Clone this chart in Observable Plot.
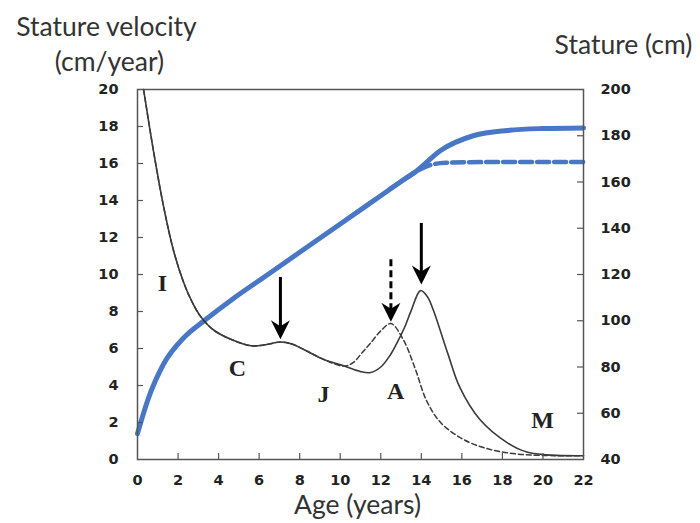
<!DOCTYPE html>
<html><head><meta charset="utf-8">
<script src="https://cdn.jsdelivr.net/npm/d3@7"></script>
<script src="https://cdn.jsdelivr.net/npm/@observablehq/plot@0.6"></script>
<style>body{margin:0;background:#fff;} svg{display:block;}</style>
</head><body><div id="chart"></div>
<script>
// Velocity (cm/year): common early part, then boys (solid) and girls (dashed)
const ageCommon = [0.3,0.8,1.3,1.8,2.3,2.7,3.1,3.75,4.6,5.6,6.3,7.05,7.6,8.2,9.2,10.2];
const velCommon = [20,16.6,13.6,11.2,9.5,8.5,7.75,7.0,6.5,6.15,6.2,6.35,6.25,5.95,5.4,5.05];
const boysVelAgeLate = [11.0,11.5,12.0,12.5,12.8,13.2,13.5,13.96,14.3,14.6,15.3,15.9,16.9,18.25,19.2,20.2,22];
const boysVelLate = [4.75,4.7,5.0,5.7,6.3,7.2,8.05,9.13,8.8,8.05,5.75,3.9,2.15,0.9,0.4,0.25,0.2];
const girlsVelAgeLate = [10.65,11.1,11.5,12.0,12.5,13.1,13.7,14.25,14.95,16.1,17.4,18.7,20,22];
const girlsVelLate = [5.25,5.8,6.3,6.95,7.35,6.5,4.9,3.2,2.0,1.07,0.54,0.3,0.22,0.2];

// Stature (cm)
const boysStatAge = [0,0.5,1.3,2.3,3.3,4.6,6.2,8.0,11.3,13.0,13.8,14.95,16.6,18.25,19.9,22];
const boysStat = [51.2,65.5,81.5,92.8,100.1,108.8,118.6,129.6,149.8,160.2,165,173.6,180.1,182.3,183.1,183.4];
const girlsStatAge = [12.5,13.0,13.8,14.4,15.2,17,22];
const girlsStat = [157.2,160.2,164.8,167.2,168.3,168.6,168.7];

// Arrows (age, top, tip in velocity units)
const arrowAge = [7.05,12.5,14.0];
const arrowTop = [9.84,10.8,12.76];
const arrowTip = [6.5,7.45,9.46];
const arrowDashed = [false,true,false];

// Phase labels
const phaseText = ["I","C","J","A","M"];
const phaseAge = [1.23,4.93,9.18,12.73,19.98];
const phaseVel = [9.5,4.92,3.5,3.67,2.1];

// Ticks
const ageTicks = [0,2,4,6,8,10,12,14,16,18,20,22];
const velTicks = [0,2,4,6,8,10,12,14,16,18,20];
const statTicks = [40,60,80,100,120,140,160,180,200];

const toVel = s => (s - 40) / 8;
const velRows = (a, v) => a.map((x, i) => ({age: x, vel: v[i]}));
const boysVel = velRows(ageCommon.concat(boysVelAgeLate), velCommon.concat(boysVelLate));
const girlsVel = velRows(ageCommon.concat(girlsVelAgeLate), velCommon.concat(girlsVelLate));
const boysS = boysStatAge.map((x, i) => ({age: x, stat: boysStat[i]}));
const girlsS = girlsStatAge.map((x, i) => ({age: x, stat: girlsStat[i]}));
const arrows = arrowAge.map((x, i) => ({age: x, top: arrowTop[i], tip: arrowTip[i], dashed: arrowDashed[i]}));
const phases = phaseText.map((t, i) => ({t, age: phaseAge[i], vel: phaseVel[i]}));

const arrowHead = {
  draw(ctx) {
    ctx.moveTo(0, 0);
    ctx.lineTo(-9.5, -19);
    ctx.lineTo(0, -13);
    ctx.lineTo(9.5, -19);
    ctx.closePath();
  }
};

const W = 700, H = 523, ML = 137, MR = 117, MT = 89, MB = 64;
const fw = W - ML - MR, fh = H - MT - MB;
const blue = "#4877c5", ink = "#3a3a3a", axisInk = "#555";
const tickFont = {fontFamily: "DejaVu Sans", fontWeight: "bold", fontSize: 14.5, fill: "#222", stroke: "#222", strokeWidth: 0.5};
const titleFont = {fontFamily: "Lato", fontSize: 26.5, fill: "#333", fontWeight: "normal", lineAnchor: "middle", textAnchor: "middle"};

const chart = Plot.plot({
  width: W, height: H,
  marginLeft: ML, marginRight: MR, marginTop: MT, marginBottom: MB,
  x: {domain: [0, 22]},
  y: {domain: [0, 20]},
  style: {background: "#fff"},
  marks: [
    // stature
    Plot.line(boysS, {x: "age", y: d => toVel(d.stat), stroke: blue, strokeWidth: 5, curve: "monotone-x"}),
    Plot.line(girlsS, {x: "age", y: d => toVel(d.stat), stroke: blue, strokeWidth: 4.5, strokeDasharray: "12,5", curve: "monotone-x"}),
    // velocity
    Plot.line(girlsVel, {x: "age", y: "vel", stroke: ink, strokeWidth: 1.5, strokeDasharray: "5,3", curve: "catmull-rom"}),
    Plot.line(boysVel, {x: "age", y: "vel", stroke: ink, strokeWidth: 1.6, curve: "catmull-rom"}),
    // arrows
    Plot.ruleX(arrows.filter(d => !d.dashed), {x: "age", y1: "top", y2: "tip", stroke: "#000", strokeWidth: 3, insetBottom: 10}),
    Plot.ruleX(arrows.filter(d => d.dashed), {x: "age", y1: "top", y2: "tip", stroke: "#000", strokeWidth: 3, strokeDasharray: "7,4", insetBottom: 10}),
    Plot.dot(arrows, {x: "age", y: "tip", symbol: arrowHead, fill: "#000", stroke: "none"}),
    // phase letters
    Plot.text(phases, {x: "age", y: "vel", text: "t", fontFamily: "Liberation Serif", fontWeight: "bold", fontSize: 24, fill: "#222"}),
    // frame & ticks
    Plot.frame({stroke: axisInk, strokeWidth: 1.5}),
    Plot.tickY(velTicks.slice(1, -1), {y: d => d, insetRight: fw - 6, stroke: axisInk, strokeWidth: 1.2}),
    Plot.tickY(statTicks.slice(1, -1), {y: d => toVel(d), insetLeft: fw - 6, stroke: axisInk, strokeWidth: 1.2}),
    Plot.tickX(ageTicks.slice(1, -1), {x: d => d, insetTop: fh - 6, stroke: axisInk, strokeWidth: 1.2}),
    // axes labels
    Plot.axisY(velTicks, {anchor: "left", tickSize: 0, tickPadding: 19, label: null, ...tickFont}),
    Plot.axisY(statTicks.map(toVel), {anchor: "right", tickSize: 0, tickPadding: 17, label: null, tickFormat: v => String(v * 8 + 40), ...tickFont}),
    Plot.axisX(ageTicks, {anchor: "bottom", tickSize: 0, tickPadding: 15, label: null, ...tickFont}),
    // titles
    Plot.text(["Stature velocity"], {frameAnchor: "top-left", dx: -31, dy: -62, ...titleFont}),
    Plot.text(["(cm/year)"], {frameAnchor: "top-left", dx: -28, dy: -27, ...titleFont}),
    Plot.text(["Stature (cm)"], {frameAnchor: "top-right", dx: 40, dy: -44, ...titleFont}),
    Plot.text(["Age (years)"], {frameAnchor: "bottom", dx: -3, dy: 46, ...titleFont})
  ]
});
document.getElementById("chart").appendChild(chart);
</script>
</body></html>
